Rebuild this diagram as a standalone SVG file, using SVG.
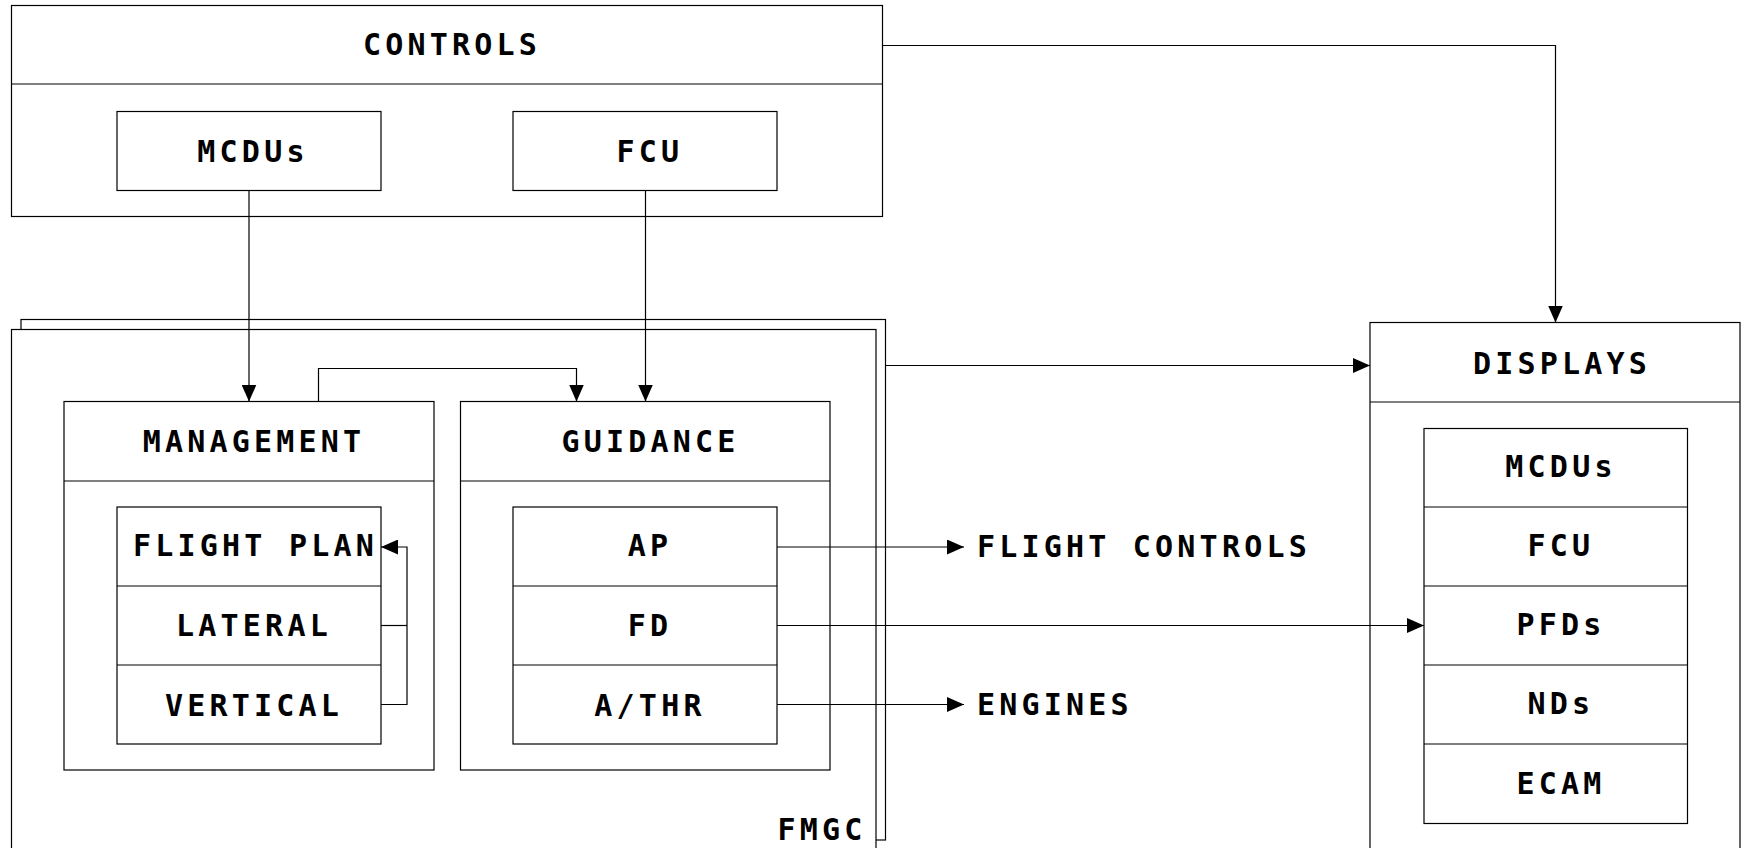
<svg xmlns="http://www.w3.org/2000/svg" width="1741" height="848" viewBox="0 0 1741 848">
<style>
.box{fill:#fff;stroke:#000;stroke-width:1.2}
.ln{fill:none;stroke:#000;stroke-width:1.2}
.t{font-family:"DejaVu Sans Mono","Liberation Mono",monospace;font-weight:bold;font-size:30px;letter-spacing:4.2px;fill:#000}
.c{text-anchor:middle}
</style>
<defs>
<marker id="arr" viewBox="0 0 17 15" refX="17" refY="7.5" markerWidth="17" markerHeight="15" markerUnits="userSpaceOnUse" orient="auto">
<path d="M0,0 L17,7.5 L0,15 z" fill="#000"/>
</marker>
</defs>
<rect width="1741" height="848" fill="#fff"/>

<g id="controls">
<rect class="box" x="11.5" y="5.5" width="871" height="211"/>
<line class="ln" x1="11.5" y1="84" x2="882.5" y2="84"/>
<text class="t c" x="452" y="55">CONTROLS</text>
</g>
<g id="controls-mcdus">
<rect class="box" x="117" y="111.5" width="264" height="79"/>
<text class="t c" x="253" y="162">MCDUs</text>
</g>
<g id="controls-fcu">
<rect class="box" x="513" y="111.5" width="264" height="79"/>
<text class="t c" x="650" y="162">FCU</text>
</g>

<g id="fmgc">
<rect class="box" x="21" y="319.5" width="864.5" height="520.5"/>
<rect class="box" x="11.5" y="329.5" width="864.5" height="530"/>
<text class="t" x="777.5" y="840">FMGC</text>
</g>

<g id="management">
<rect class="box" x="64" y="401.5" width="370" height="368.5"/>
<line class="ln" x1="64" y1="481" x2="434" y2="481"/>
<text class="t c" x="254" y="452">MANAGEMENT</text>
</g>
<g id="management-list">
<rect class="box" x="117" y="507" width="264" height="237"/>
<line class="ln" x1="117" y1="586" x2="381" y2="586"/>
<line class="ln" x1="117" y1="665" x2="381" y2="665"/>
<text class="t c" x="255.5" y="556">FLIGHT PLAN</text>
<text class="t c" x="254" y="636">LATERAL</text>
<text class="t c" x="254" y="716">VERTICAL</text>
</g>

<g id="guidance">
<rect class="box" x="460.5" y="401.5" width="369.5" height="368.5"/>
<line class="ln" x1="460.5" y1="481" x2="830" y2="481"/>
<text class="t c" x="650.5" y="452">GUIDANCE</text>
</g>
<g id="guidance-list">
<rect class="box" x="513" y="507" width="264" height="237"/>
<line class="ln" x1="513" y1="586" x2="777" y2="586"/>
<line class="ln" x1="513" y1="665" x2="777" y2="665"/>
<text class="t c" x="650" y="556">AP</text>
<text class="t c" x="650" y="636">FD</text>
<text class="t c" x="650" y="716">A/THR</text>
</g>

<g id="displays">
<rect class="box" x="1370" y="322.5" width="370" height="540"/>
<line class="ln" x1="1370" y1="402" x2="1740" y2="402"/>
<text class="t c" x="1562" y="374">DISPLAYS</text>
</g>
<g id="displays-list">
<rect class="box" x="1424" y="428.5" width="263.5" height="395"/>
<line class="ln" x1="1424" y1="507" x2="1687.5" y2="507"/>
<line class="ln" x1="1424" y1="586" x2="1687.5" y2="586"/>
<line class="ln" x1="1424" y1="665" x2="1687.5" y2="665"/>
<line class="ln" x1="1424" y1="744" x2="1687.5" y2="744"/>
<text class="t c" x="1561" y="477">MCDUs</text>
<text class="t c" x="1561" y="556">FCU</text>
<text class="t c" x="1561" y="635">PFDs</text>
<text class="t c" x="1561" y="714">NDs</text>
<text class="t c" x="1561" y="794">ECAM</text>
</g>

<g id="flight-controls">
<text class="t" x="977" y="557">FLIGHT CONTROLS</text>
</g>
<g id="engines">
<text class="t" x="977" y="715">ENGINES</text>
</g>

<g id="connectors">
<path class="ln" d="M249,190.5 V401.5" marker-end="url(#arr)"/>
<path class="ln" d="M645.5,190.5 V401.5" marker-end="url(#arr)"/>
<path class="ln" d="M318.5,401.5 V368.5 H576.5 V401.5" marker-end="url(#arr)"/>
<path class="ln" d="M882.5,45.5 H1555.5 V322.5" marker-end="url(#arr)"/>
<path class="ln" d="M885.5,365.5 H1370" marker-end="url(#arr)"/>
<path class="ln" d="M777,547 H964" marker-end="url(#arr)"/>
<path class="ln" d="M777,625.5 H1424" marker-end="url(#arr)"/>
<path class="ln" d="M777,704.5 H964" marker-end="url(#arr)"/>
<path class="ln" d="M381,625.5 H407"/>
<path class="ln" d="M381,704.5 H407 V547 H381" marker-end="url(#arr)"/>
</g>
</svg>
